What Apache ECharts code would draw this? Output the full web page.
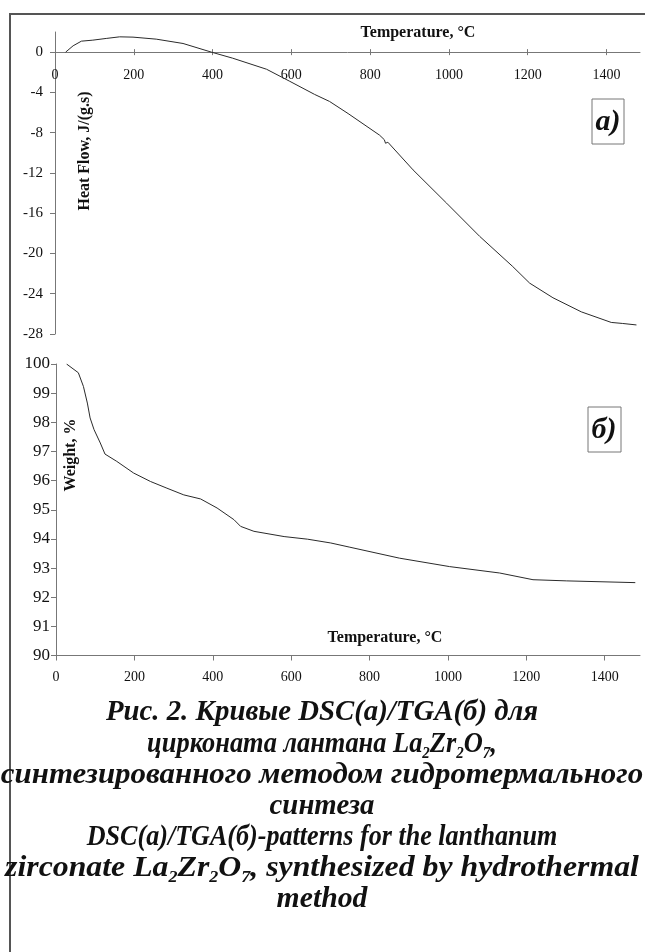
<!DOCTYPE html>
<html>
<head>
<meta charset="utf-8">
<title>DSC/TGA La2Zr2O7</title>
<script src="https://cdn.jsdelivr.net/npm/echarts@6/dist/echarts.min.js"></script>
<style>
html, body { margin: 0; padding: 0; background: #fff; }
#chart { width: 645px; height: 952px; }
</style>
</head>
<body>
<div id="chart"></div>
<script>
// DSC curve (a)
var dscTemp = [27, 46, 67, 96, 130, 164, 198, 257, 325, 397, 451, 537, 596, 659, 697, 744, 824, 836, 839, 845, 909, 994, 1078, 1162, 1205, 1264, 1336, 1412, 1440, 1476];
var dscHeat = [0, 0.63, 1.09, 1.19, 1.36, 1.52, 1.49, 1.29, 0.86, 0, -0.6, -1.7, -2.9, -4.2, -4.9, -6.1, -8.25, -8.7, -9.05, -8.95, -11.7, -15.0, -18.3, -21.3, -22.95, -24.4, -25.8, -26.85, -26.95, -27.1];

// TGA curve (б)
var tgaTemp = [27, 57, 70, 80, 87, 97, 113, 125, 155, 198, 241, 283, 326, 369, 411, 454, 471, 505, 582, 642, 701, 748, 876, 1004, 1132, 1217, 1303, 1478];
var tgaWeight = [100, 99.7, 99.23, 98.66, 98.15, 97.75, 97.29, 96.91, 96.66, 96.26, 95.97, 95.74, 95.51, 95.37, 95.06, 94.66, 94.43, 94.26, 94.08, 93.99, 93.86, 93.72, 93.34, 93.05, 92.83, 92.6, 92.56, 92.5];

// tick labels
var tempTicks = [0, 200, 400, 600, 800, 1000, 1200, 1400];
var heatTicks = [-28, -24, -20, -16, -12, -8, -4, 0];

var serif = '"Liberation Serif", "DejaVu Serif", serif';

function pairs(xs, ys) {
    var out = [];
    for (var i = 0; i < xs.length; i++) out.push([xs[i], ys[i]]);
    return out;
}
function plain(v) { return String(v); }

var myChart = echarts.init(document.getElementById('chart'));

// top panel: grid 32..334, y from 2 down to -28 -> zero line ~52
var topGrid = { left: 55, top: 32, width: 585, height: 302 };
var zeroShift = -topGrid.height * 28 / 30;

var capStyle = {
    fontFamily: serif,
    fontWeight: 'bold',
    fontStyle: 'italic',
    fontSize: 30,
    fill: '#111',
    align: 'center',
    verticalAlign: 'middle',
    lineHeight: 32
};
var subStyle = {
    fontFamily: serif,
    fontWeight: 'bold',
    fontStyle: 'italic',
    fontSize: 17,
    lineHeight: 32,
    padding: [19, 0, 0, 0]
};

function capLine(txt, y, sx) {
    return {
        type: 'text', x: 322, y: y, scaleX: sx,
        style: Object.assign({}, capStyle, { text: txt, rich: { s: subStyle } })
    };
}

var option = {
    animation: false,
    grid: [
        topGrid,
        { left: 56, top: 364, width: 584, height: 291.5 }
    ],
    xAxis: [
        {
            type: 'value', gridIndex: 0, min: 0, max: 1485, position: 'bottom', offset: zeroShift,
            axisLine: { onZero: false, lineStyle: { color: '#777', width: 1 } },
            axisTick: { show: true, length: 3, customValues: tempTicks, lineStyle: { color: '#777' } },
            axisLabel: { customValues: tempTicks, formatter: plain, margin: 16, fontFamily: serif, fontSize: 14, color: '#111' },
            splitLine: { show: false }
        },
        {
            // upper half of the cross ticks
            type: 'value', gridIndex: 0, min: 0, max: 1485, position: 'bottom', offset: zeroShift,
            axisLine: { show: false, onZero: false },
            axisTick: { show: true, inside: true, length: 3, customValues: tempTicks, lineStyle: { color: '#777' } },
            axisLabel: { show: false },
            splitLine: { show: false }
        },
        {
            type: 'value', gridIndex: 1, min: 0, max: 1490,
            axisLine: { lineStyle: { color: '#777', width: 1 } },
            axisTick: { length: 5, customValues: tempTicks, lineStyle: { color: '#777' } },
            axisLabel: { customValues: tempTicks, formatter: plain, margin: 15, fontFamily: serif, fontSize: 14, color: '#111' },
            splitLine: { show: false }
        }
    ],
    yAxis: [
        {
            type: 'value', gridIndex: 0, min: -28, max: 2,
            axisLine: { show: true, onZero: false, lineStyle: { color: '#777', width: 1 } },
            axisTick: { show: true, length: 5, customValues: heatTicks, lineStyle: { color: '#777' } },
            axisLabel: { customValues: heatTicks, margin: 12, fontFamily: serif, fontSize: 15, color: '#111' },
            splitLine: { show: false }
        },
        {
            type: 'value', gridIndex: 1, min: 90, max: 100, interval: 1,
            axisLine: { show: true, onZero: false, lineStyle: { color: '#777', width: 1 } },
            axisTick: { show: true, length: 5, lineStyle: { color: '#777' } },
            axisLabel: { margin: 6, fontFamily: serif, fontSize: 17, color: '#111' },
            splitLine: { show: false }
        }
    ],
    series: [
        {
            name: 'DSC', type: 'line', xAxisIndex: 0, yAxisIndex: 0,
            data: pairs(dscTemp, dscHeat), showSymbol: false,
            lineStyle: { color: '#2a2a2a', width: 1 }
        },
        {
            name: 'TGA', type: 'line', xAxisIndex: 2, yAxisIndex: 1,
            data: pairs(tgaTemp, tgaWeight), showSymbol: false,
            lineStyle: { color: '#2a2a2a', width: 1 }
        }
    ],
    graphic: [
        // figure frame
        { type: 'polyline', shape: { points: [[10, 952], [10, 14], [645, 14]] }, style: { stroke: '#555', lineWidth: 2, fill: null } },
        // axis titles
        { type: 'text', x: 418, y: 33, style: { text: 'Temperature, °C', fontFamily: serif, fontWeight: 'bold', fontSize: 16, fill: '#111', align: 'center', verticalAlign: 'middle' } },
        { type: 'text', x: 385, y: 638, style: { text: 'Temperature, °C', fontFamily: serif, fontWeight: 'bold', fontSize: 16, fill: '#111', align: 'center', verticalAlign: 'middle' } },
        { type: 'text', x: 85, y: 151, rotation: Math.PI / 2, style: { text: 'Heat Flow, J/(g.s)', fontFamily: serif, fontWeight: 'bold', fontSize: 16, fill: '#111', align: 'center', verticalAlign: 'middle' } },
        { type: 'text', x: 71, y: 455, rotation: Math.PI / 2, style: { text: 'Weight, %', fontFamily: serif, fontWeight: 'bold', fontSize: 16, fill: '#111', align: 'center', verticalAlign: 'middle' } },
        // panel labels
        { type: 'rect', shape: { x: 592, y: 99, width: 32, height: 45 }, style: { stroke: '#777', lineWidth: 1, fill: '#fff' } },
        { type: 'text', x: 608, y: 122, style: { text: 'a)', fontFamily: serif, fontWeight: 'bold', fontStyle: 'italic', fontSize: 30, fill: '#111', align: 'center', verticalAlign: 'middle' } },
        { type: 'rect', shape: { x: 588, y: 407, width: 33, height: 45 }, style: { stroke: '#777', lineWidth: 1, fill: '#fff' } },
        { type: 'text', x: 604, y: 430, style: { text: 'б)', fontFamily: serif, fontWeight: 'bold', fontStyle: 'italic', fontSize: 30, fill: '#111', align: 'center', verticalAlign: 'middle' } },
        // caption
        capLine('Рис. 2. Кривые DSC(a)/TGA(б) для', 712, 0.96),
        capLine('цирконата лантана La{s|2}Zr{s|2}O{s|7},', 744, 0.88),
        capLine('синтезированного методом гидротермального', 775, 1.03),
        capLine('синтеза', 806, 0.96),
        capLine('DSC(a)/TGA(б)-patterns for the lanthanum', 837, 0.87),
        capLine('zirconate La{s|2}Zr{s|2}O{s|7}, synthesized by hydrothermal', 868, 1.06),
        capLine('method', 899, 0.99)
    ]
};

myChart.setOption(option);
</script>
</body>
</html>
